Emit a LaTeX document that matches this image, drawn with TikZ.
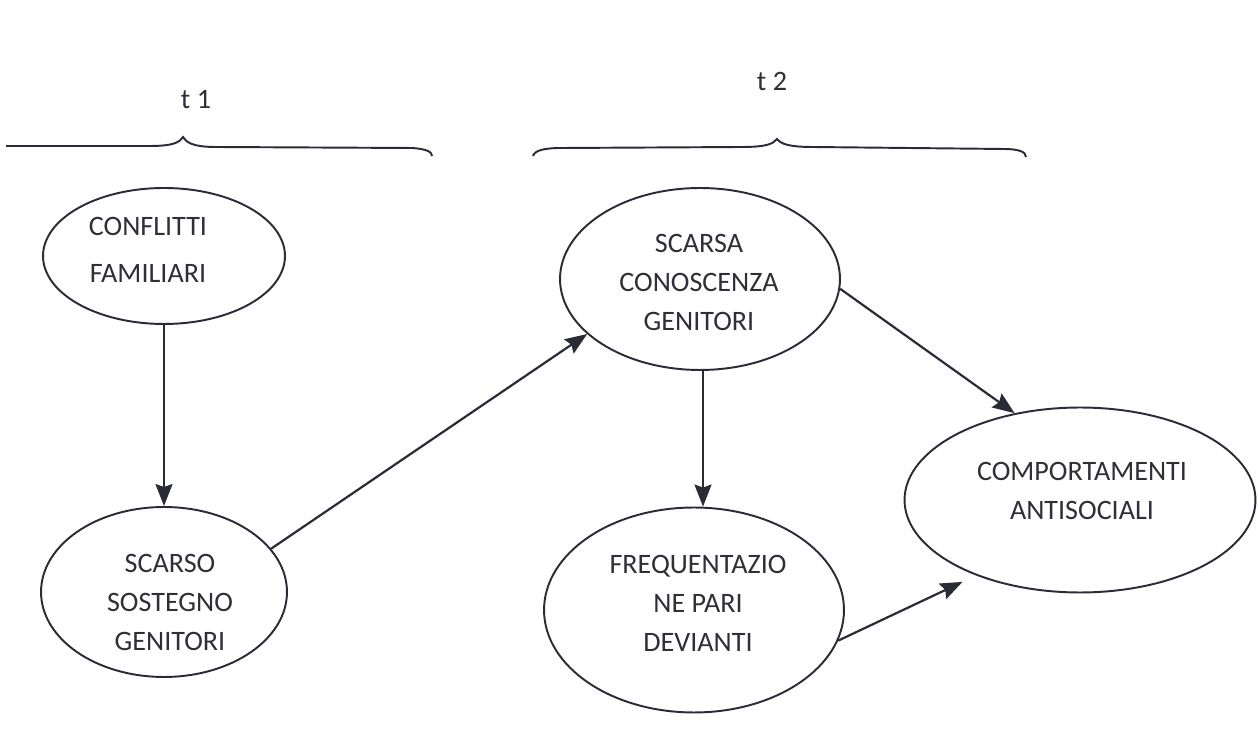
\documentclass[tikz,border=0pt]{standalone}
\usepackage{fontspec}
\setmainfont{Carlito}
\usetikzlibrary{shapes.geometric,arrows.meta}
\definecolor{linec}{HTML}{2B2B37}
\definecolor{textc}{HTML}{2F2F38}
\tikzset{
  oval/.style={draw=linec, line width=1.1pt, ellipse, inner sep=0pt},
  ovaltext/.style={text=textc, font=\fontsize{16}{22.2}\selectfont, align=center},
  arr/.style={draw=linec, line width=1.25pt, -{Stealth[length=4.4mm,width=3.4mm,inset=0.6mm]}},
  bracec/.style={draw=linec, line width=1.1pt},
  tlabel/.style={text=textc, font=\fontsize{16}{20}\selectfont}
}
\begin{document}
\begin{tikzpicture}[x=0.02cm,y=-0.02cm]
\useasboundingbox[fill=white] (0,0) rectangle (1258,742);

% ellipses (sizes: 1 px = 0.02 cm)
\node[oval, minimum width=4.84cm, minimum height=2.72cm] (c1) at (164,256) {};
\node[ovaltext] (c1t) at (148,250) {CONFLITTI\\[4.5pt]FAMILIARI};

\node[oval, minimum width=4.92cm, minimum height=3.4cm] (c2) at (164,592) {};
\node[ovaltext] (c2t) at (170,602) {SCARSO\\SOSTEGNO\\GENITORI};

\node[oval, minimum width=5.6cm, minimum height=3.64cm] (c3) at (700,279) {};
\node[ovaltext] (c3t) at (699,282) {SCARSA\\CONOSCENZA\\GENITORI};

\node[oval, minimum width=6.0cm, minimum height=4.1cm] (c4) at (694,610) {};
\node[ovaltext] (c4t) at (698,603) {FREQUENTAZIO\\NE PARI\\DEVIANTI};

\node[oval, minimum width=7.02cm, minimum height=3.7cm] (c5) at (1080,500) {};
\node[ovaltext] (c5t) at (1082,491) {COMPORTAMENTI\\ANTISOCIALI};

% time labels
\node[tlabel] (t1) at (196,100) {t 1};
\node[tlabel] (t2) at (772,81) {t 2};

% braces
\draw[bracec] (6,146) -- (150,146) .. controls (174,146) and (180,142) .. (183,137)
  .. controls (186,142) and (192,147) .. (216,147) -- (412,148)
  .. controls (427,149) and (432,152) .. (432,156);
\draw[bracec] (533,156) .. controls (535,150) and (545,148) .. (562,148) -- (742,147)
  .. controls (766,147) and (773,144) .. (777,139)
  .. controls (781,144) and (789,147) .. (813,147) -- (1004,149)
  .. controls (1019,149) and (1026,152) .. (1026,157);

% arrows
\draw[arr] (c1.south) -- (c1.south |- c2.north);
\draw[arr] (c2.22) -- (c3.206);
\draw[arr] ([xshift=0.06cm]c3.south) -- ([xshift=0.06cm]c3.south |- c4.north);
\draw[arr] (c3.-4) -- (c5.127);
\draw[arr, shorten >=0.3cm] (c4.-12) -- (c5.216);
\end{tikzpicture}
\end{document}
